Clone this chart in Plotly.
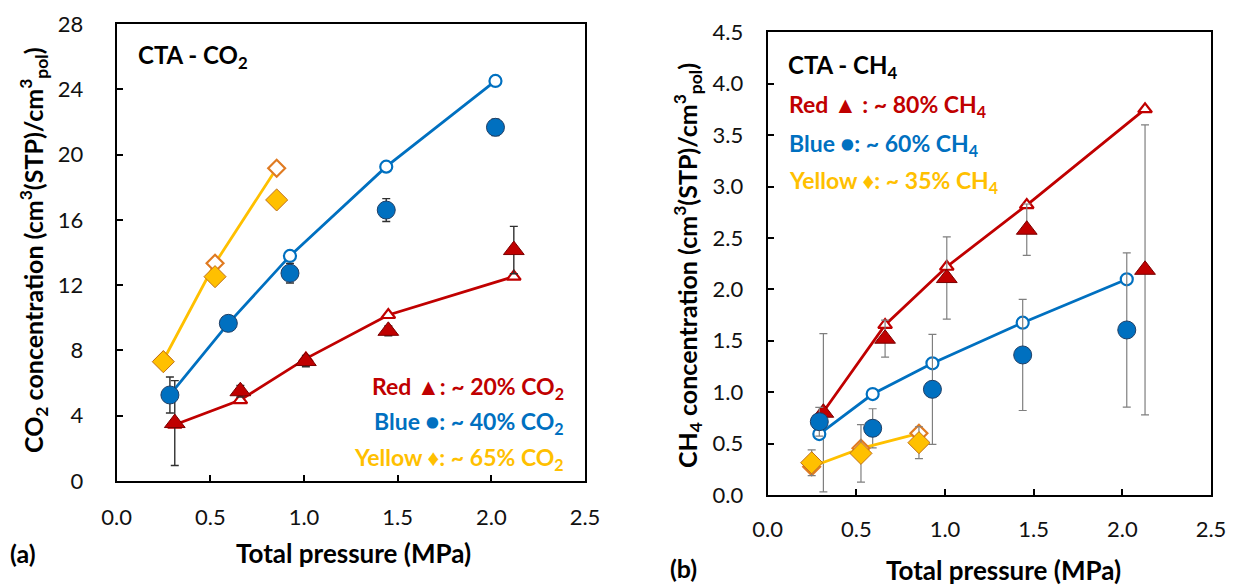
import plotly.graph_objects as go

# ---------------- Data ----------------
# Panel (a): CO2
co2_red_open_x = [0.31, 0.66, 1.01, 1.45, 2.12]
co2_red_open_y = [3.45, 4.96, 7.50, 10.17, 12.52]
co2_red_x = [0.31, 0.66, 1.01, 1.45, 2.12]
co2_red_y = [3.55, 5.50, 7.35, 9.20, 14.15]
co2_red_err = [2.6, 0.35, 0.35, 0.3, 1.45]

co2_blue_open_x = [0.284, 0.596, 0.925, 1.439, 2.022]
co2_blue_open_y = [5.27, 9.66, 13.79, 19.26, 24.51]
co2_blue_x = [0.284, 0.596, 0.925, 1.439, 2.022]
co2_blue_y = [5.27, 9.66, 12.73, 16.60, 21.67]
co2_blue_err = [1.1, 0.2, 0.6, 0.7, 0.5]

co2_yel_open_x = [0.249, 0.525, 0.854]
co2_yel_open_y = [7.40, 13.34, 19.16]
co2_yel_x = [0.249, 0.525, 0.854]
co2_yel_y = [7.31, 12.52, 17.22]
co2_yel_err = [0.2, 0.35, 0.2]

# Panel (b): CH4
ch4_red_open_x = [0.314, 0.662, 1.01, 1.461, 2.128]
ch4_red_open_y = [0.81, 1.654, 2.22, 2.82, 3.752]
ch4_red_x = [0.314, 0.662, 1.01, 1.461, 2.128]
ch4_red_y = [0.80, 1.52, 2.11, 2.58, 2.19]
ch4_red_err = [0.77, 0.18, 0.40, 0.25, 1.41]

ch4_blue_open_x = [0.291, 0.592, 0.929, 1.438, 2.025]
ch4_blue_open_y = [0.593, 0.982, 1.281, 1.676, 2.098]
ch4_blue_x = [0.291, 0.592, 0.929, 1.438, 2.025]
ch4_blue_y = [0.713, 0.649, 1.028, 1.362, 1.605]
ch4_blue_err = [0.14, 0.19, 0.535, 0.54, 0.75]

ch4_yel_open_x = [0.248, 0.526, 0.853]
ch4_yel_open_y = [0.275, 0.454, 0.600]
ch4_yel_x = [0.248, 0.526, 0.853]
ch4_yel_y = [0.314, 0.405, 0.509]
ch4_yel_err = [0.125, 0.28, 0.155]

x_ticks = [0.0, 0.5, 1.0, 1.5, 2.0, 2.5]
co2_ticks = [0, 4, 8, 12, 16, 20, 24, 28]
ch4_ticks = [0.0, 0.5, 1.0, 1.5, 2.0, 2.5, 3.0, 3.5, 4.0, 4.5]

RED, RED_D = "#C00000", "#7A0000"
BLUE, BLUE_D = "#0070C0", "#1F3F66"
YEL, YEL_D = "#FFC000", "#C0701A"
YEL_OPEN = "#E07B22"
FONT = "Lato"

fig = go.Figure()


def add_set(xa, ya, ox, oy, fx, fy, ferr, color, dark, open_line, symbol,
            fsize, osize, ecolor, ethick):
    fig.add_trace(go.Scatter(
        x=ox, y=oy, mode="lines+markers", xaxis=xa, yaxis=ya,
        line=dict(color=color, width=2.8),
        marker=dict(symbol=symbol, size=osize, color="white",
                    line=dict(color=open_line, width=2.2)),
        showlegend=False, hoverinfo="skip"))
    fig.add_trace(go.Scatter(
        x=fx, y=fy, mode="markers", xaxis=xa, yaxis=ya,
        marker=dict(symbol=symbol, size=fsize, color=color,
                    line=dict(color=dark, width=1)),
        error_y=dict(type="data", array=ferr, color=ecolor,
                     thickness=ethick, width=4),
        showlegend=False, hoverinfo="skip"))


# Panel (a)
E1 = "#303030"
add_set("x", "y", co2_red_open_x, co2_red_open_y, co2_red_x, co2_red_y,
        co2_red_err, RED, RED_D, RED, "triangle-up", 18, 12, E1, 1.4)
add_set("x", "y", co2_blue_open_x, co2_blue_open_y, co2_blue_x, co2_blue_y,
        co2_blue_err, BLUE, BLUE_D, BLUE, "circle", 18, 12, E1, 1.4)
add_set("x", "y", co2_yel_open_x, co2_yel_open_y, co2_yel_x, co2_yel_y,
        co2_yel_err, YEL, YEL_D, YEL_OPEN, "diamond", 17, 13, E1, 1.4)

# Panel (b)
E2 = "#7F7F7F"
add_set("x2", "y2", ch4_red_open_x, ch4_red_open_y, ch4_red_x, ch4_red_y,
        ch4_red_err, RED, RED_D, RED, "triangle-up", 18, 12, E2, 1.2)
add_set("x2", "y2", ch4_blue_open_x, ch4_blue_open_y, ch4_blue_x, ch4_blue_y,
        ch4_blue_err, BLUE, BLUE_D, BLUE, "circle", 18, 12, E2, 1.2)
add_set("x2", "y2", ch4_yel_open_x, ch4_yel_open_y, ch4_yel_x, ch4_yel_y,
        ch4_yel_err, YEL, YEL_D, YEL_OPEN, "diamond", 17, 13, E2, 1.2)

# The page body has an 8px margin, so the figure is sized to fill the
# remaining window and positions below are given in window pixels.
OFF = 8
W, H = 1246 - OFF, 585 - OFF


def px(v):
    return (v - OFF) / W


def py(v):
    return 1 - (v - OFF) / H


axis_common = dict(showline=True, linecolor="black", linewidth=2, mirror=True,
                   ticks="inside", ticklen=6, tickcolor="black", tickwidth=1.5,
                   showgrid=False, zeroline=False, automargin=False,
                   tickfont=dict(family=FONT, size=22, color="#111111"))

fig.update_layout(
    template="none",
    width=W, height=H, margin=dict(l=0, r=0, t=0, b=0, pad=0, autoexpand=False),
    paper_bgcolor="white", plot_bgcolor="white",
    xaxis=dict(domain=[px(116.7), px(585)], range=[0, 2.5], tickvals=x_ticks,
               ticktext=[f"{v:.1f}" for v in x_ticks], anchor="y",
               ticklabelstandoff=16, **axis_common),
    yaxis=dict(domain=[py(481), py(24)], range=[0, 28], tickvals=co2_ticks,
               ticktext=[str(v) for v in co2_ticks], anchor="x",
               ticklabelstandoff=27, **axis_common),
    xaxis2=dict(domain=[px(767.7), px(1211)], range=[0, 2.5], tickvals=x_ticks,
                ticktext=[f"{v:.1f}" for v in x_ticks], anchor="y2",
                ticklabelstandoff=14, **axis_common),
    yaxis2=dict(domain=[py(495), py(32.3)], range=[0, 4.5], tickvals=ch4_ticks,
                ticktext=[f"{v:.1f}" for v in ch4_ticks], anchor="x2",
                ticklabelstandoff=18, **axis_common),
)

ann = []


def text(x, y, s, size=19, color="black", xanchor="center", angle=0):
    ann.append(dict(x=px(x), y=py(y), xref="paper", yref="paper", text=s,
                    showarrow=False, xanchor=xanchor, yanchor="middle",
                    textangle=angle,
                    font=dict(family=FONT, size=size, color=color)))


# Axis titles
text(353, 553, "<b>Total pressure (MPa)</b>", 26)
text(1003, 570, "<b>Total pressure (MPa)</b>", 26)
text(33, 250, "<b>CO<sub>2</sub> concentration (cm<sup>3</sup>(STP)/cm<sup>3</sup><sub>pol</sub>)</b>", 25, angle=-90)
text(687, 266, "<b>CH<sub>4</sub> concentration (cm<sup>3</sup>(STP)/cm<sup>3</sup><sub>pol</sub>)</b>", 25, angle=-90)
text(8, 553, "<b>(a)</b>", 25, xanchor="left")
text(668, 568, "<b>(b)</b>", 25, xanchor="left")

# In-plot labels panel (a)
text(136, 57, "<b>CTA - CO<sub>2</sub></b>", 24, xanchor="left")
text(566, 387, "<b>Red ▲: ~ 20% CO<sub>2</sub></b>", 23, RED, xanchor="right")
text(566, 422, "<b>Blue ●: ~ 40% CO<sub>2</sub></b>", 23, BLUE, xanchor="right")
text(566, 458, "<b>Yellow ♦: ~ 65% CO<sub>2</sub></b>", 23, YEL, xanchor="right")

# In-plot labels panel (b)
text(786, 66, "<b>CTA - CH<sub>4</sub></b>", 24, xanchor="left")
text(787, 105, "<b>Red ▲ : ~ 80% CH<sub>4</sub></b>", 23, RED, xanchor="left")
text(787, 144, "<b>Blue ●: ~ 60% CH<sub>4</sub></b>", 23, BLUE, xanchor="left")
text(787, 181, "<b>Yellow ♦: ~ 35% CH<sub>4</sub></b>", 23, YEL, xanchor="left")

fig.update_layout(annotations=ann)

fig.write_html("out.html")
